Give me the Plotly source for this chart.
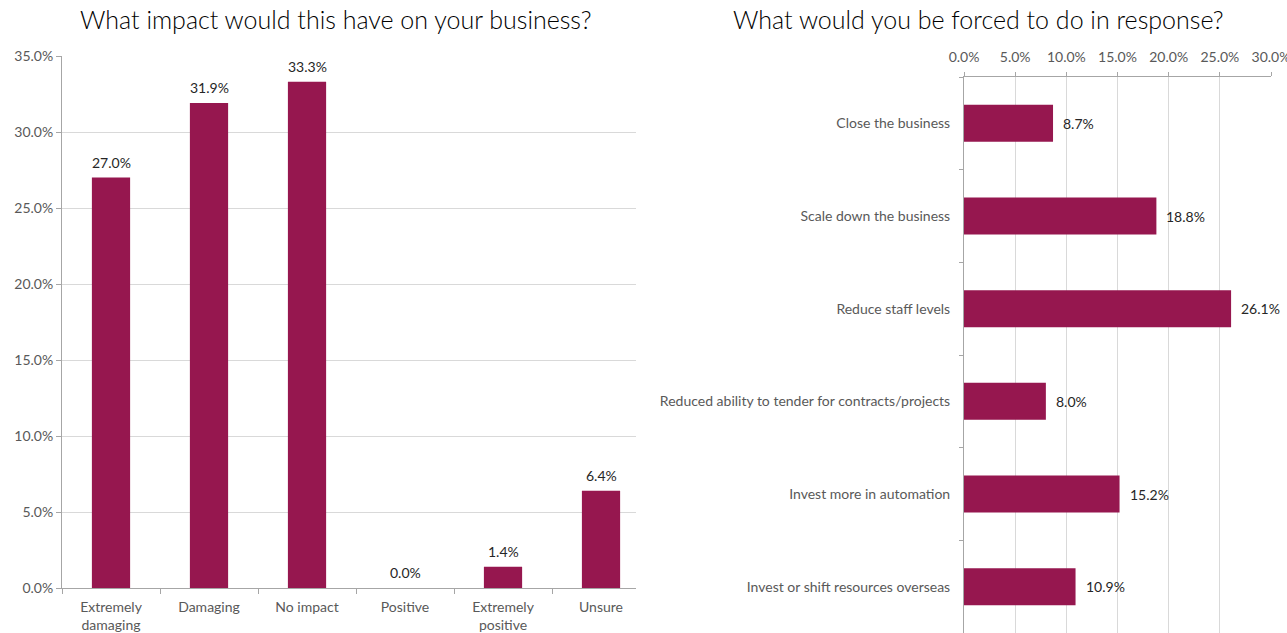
import plotly.graph_objects as go

impact_categories = ["Extremely<br>damaging", "Damaging", "No impact", "Positive", "Extremely<br>positive", "Unsure"]
impact_values = [0.270, 0.319, 0.333, 0.000, 0.014, 0.064]

response_categories = ["Close the business", "Scale down the business", "Reduce staff levels",
                       "Reduced ability to tender for contracts/projects", "Invest more in automation",
                       "Invest or shift resources overseas"]
response_values = [0.087, 0.188, 0.261, 0.080, 0.152, 0.109]

BAR = "#96174F"
GRID = "#D9D9D9"
AXIS = "#A6A6A6"
TICKC = "#595959"
LABC = "#262626"
FONT = "Lato"
W, H = 1287, 633

fig = go.Figure()
fig.add_trace(go.Bar(x=impact_categories, y=impact_values, marker=dict(color=BAR, line=dict(width=0)),
                     width=0.39, xaxis="x", yaxis="y", showlegend=False, hoverinfo="y"))
fig.add_trace(go.Bar(y=response_categories, x=response_values, orientation="h",
                     marker=dict(color=BAR, line=dict(width=0)),
                     width=0.4, xaxis="x2", yaxis="y2", showlegend=False, hoverinfo="x"))

annotations = []
for c, v in zip(impact_categories, impact_values):
    annotations.append(dict(x=c, y=v, xref="x", yref="y", text=f"{v*100:.1f}%", showarrow=False,
                            xanchor="center", yanchor="bottom", yshift=5,
                            font=dict(family=FONT, size=14, color=LABC)))
for c, v in zip(response_categories, response_values):
    annotations.append(dict(x=v, y=c, xref="x2", yref="y2", text=f"{v*100:.1f}%", showarrow=False,
                            xanchor="left", yanchor="middle", xshift=8,
                            font=dict(family=FONT, size=14, color=LABC)))

annotations += [
    dict(text="What impact would this have on your business?", x=336 / W, y=(H - 19) / H,
         xref="paper", yref="paper", showarrow=False, xanchor="center", yanchor="middle",
         font=dict(family=FONT, size=25, color="#000000", weight=300)),
    dict(text="What would you be forced to do in response?", x=978 / W, y=(H - 19) / H,
         xref="paper", yref="paper", showarrow=False, xanchor="center", yanchor="middle",
         font=dict(family=FONT, size=25, color="#000000", weight=300)),
]

tf = dict(family=FONT, size=14, color=TICKC)
fig.update_layout(
    width=W, height=H, margin=dict(l=0, r=0, t=0, b=0, autoexpand=False),
    paper_bgcolor="white", plot_bgcolor="white",
    font=dict(family=FONT, size=14, color=TICKC),
    xaxis=dict(domain=[62 / W, 636 / W], range=[-0.5, 5.357], type="category", automargin=False,
               showline=True, linecolor=AXIS, linewidth=1, ticks="outside", tickson="boundaries",
               ticklen=5, tickcolor=AXIS, showgrid=False, anchor="y", ticklabelstandoff=6,
               tickfont=tf),
    yaxis=dict(domain=[(H - 588) / H, (H - 56) / H], range=[0, 0.35], dtick=0.05, tickformat=".1%",
               automargin=False,
               showline=True, linecolor=AXIS, linewidth=1, ticks="outside", ticklen=5, tickcolor=AXIS,
               showgrid=True, gridcolor=GRID, gridwidth=1, zeroline=False, anchor="x",
               tickfont=tf),
    xaxis2=dict(domain=[964 / W, 1271 / W], range=[0, 0.30], dtick=0.05, tickformat=".1%",
                automargin=False, ticklabeloverflow="allow",
                side="top", showline=True, linecolor=AXIS, linewidth=1, ticks="outside", ticklen=4,
                tickcolor=AXIS, showgrid=True, gridcolor=GRID, gridwidth=1, zeroline=False, anchor="y2",
                ticklabelstandoff=4, tickfont=tf),
    yaxis2=dict(domain=[0, (H - 77) / H], range=[5.5, -0.5], type="category", automargin=False,
                showline=True, linecolor=AXIS, linewidth=1, ticks="outside", tickson="boundaries",
                ticklen=4, tickcolor=AXIS, showgrid=False, anchor="x2", ticklabelstandoff=10,
                tickfont=tf),
    annotations=annotations,
)

fig.write_html("out.html")
